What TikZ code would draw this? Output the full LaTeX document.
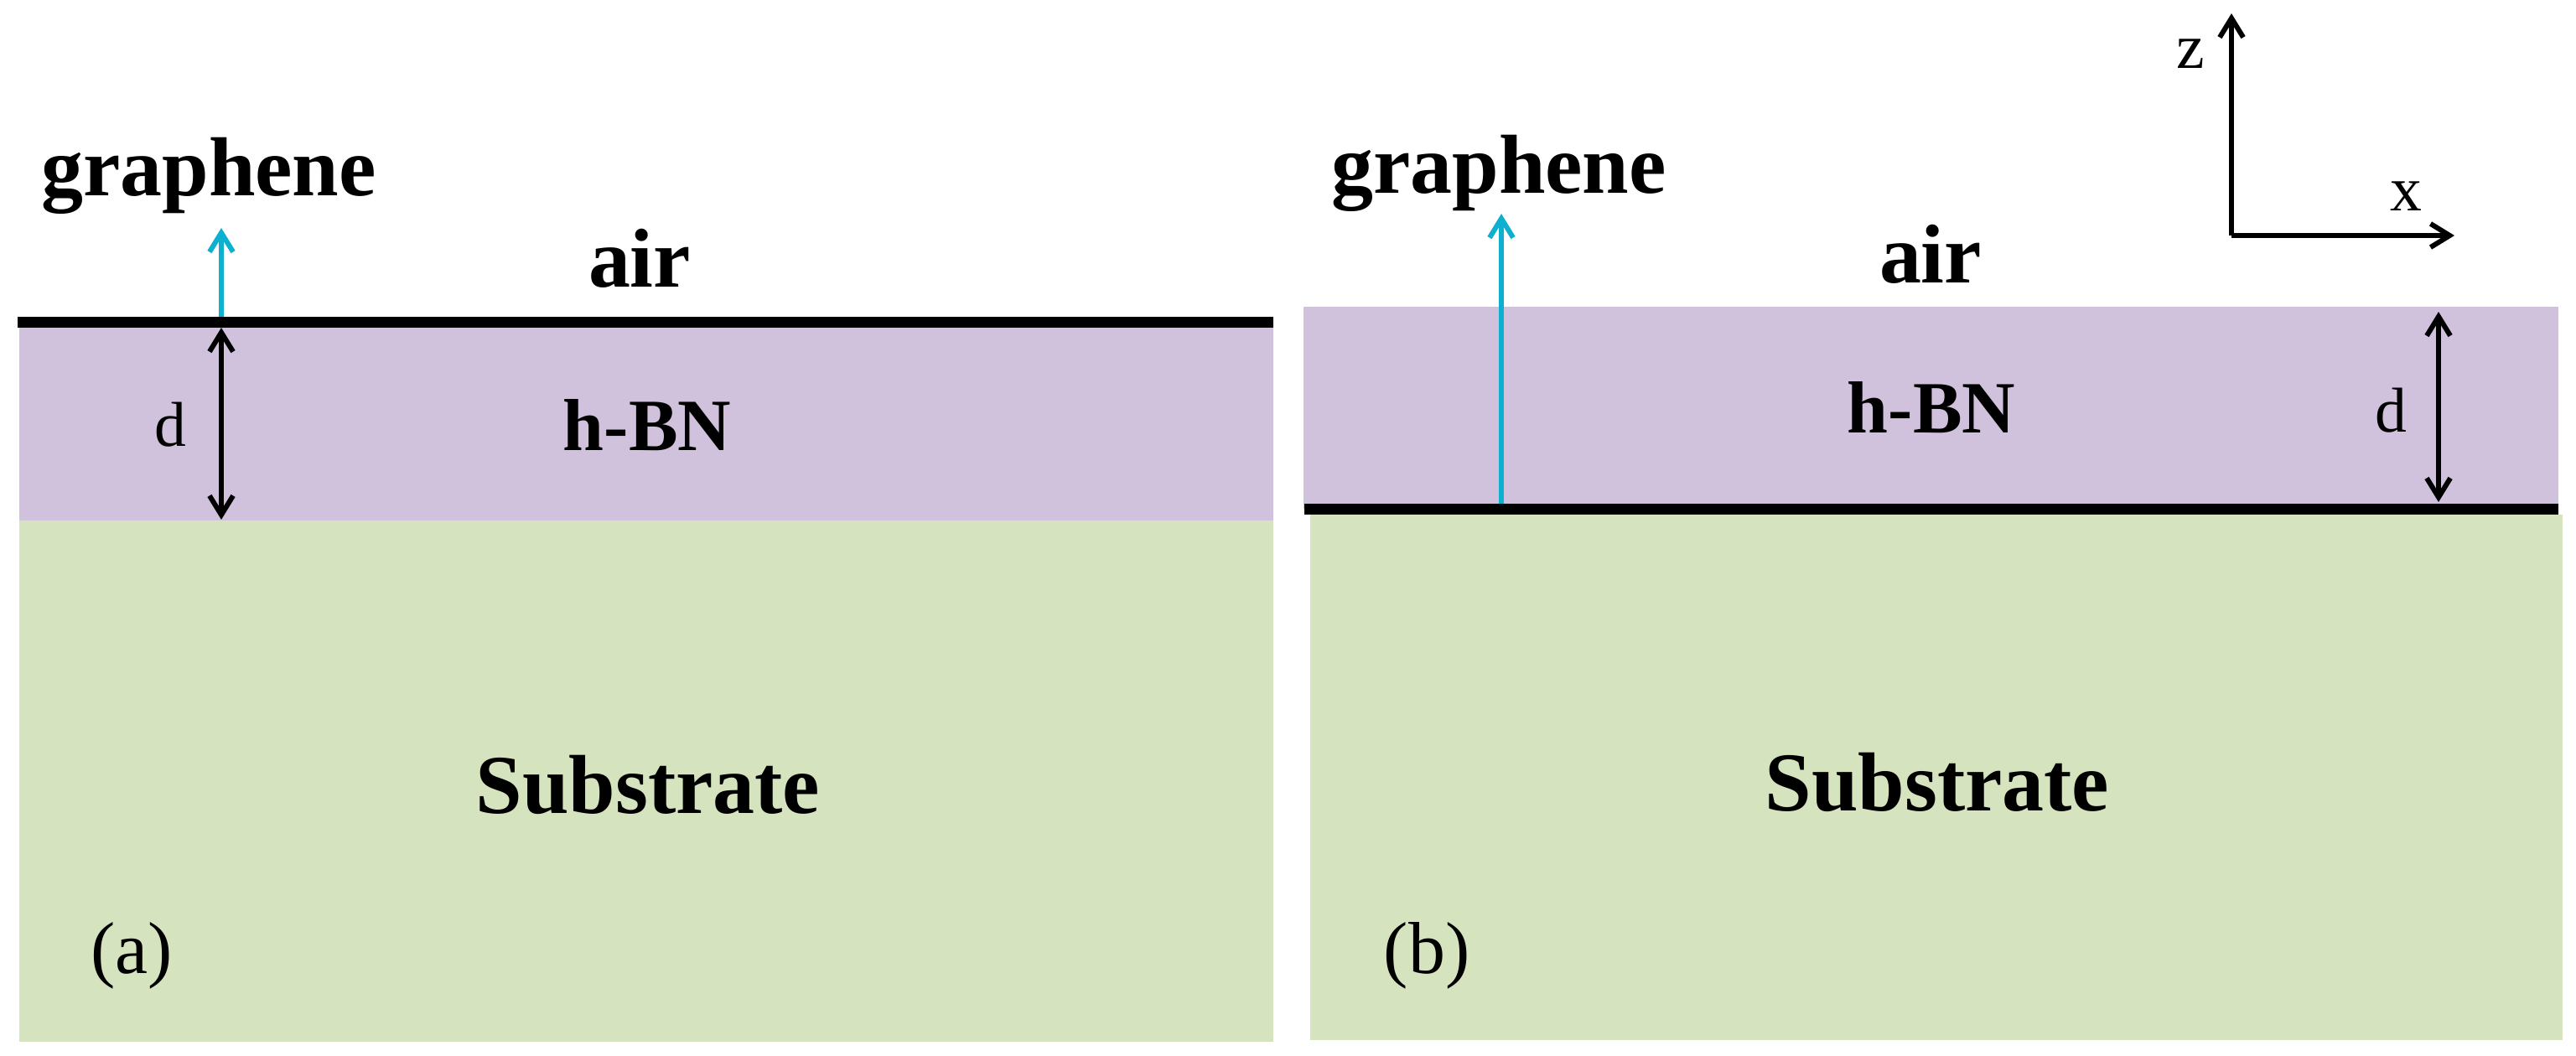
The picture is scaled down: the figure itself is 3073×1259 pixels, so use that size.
\documentclass[tikz,border=0pt]{standalone}
\usepackage{fontspec}
\setmainfont{Liberation Serif}
\usetikzlibrary{arrows.meta}
\definecolor{hbn}{RGB}{208,193,220}
\definecolor{subs}{RGB}{213,228,190}
\definecolor{cyanarr}{RGB}{14,176,208}
\tikzset{
  px/.style={x=0.01cm,y=-0.01cm},
  boldlbl/.style={inner sep=0pt,anchor=base,font=\fontsize{28.4pt}{34pt}\selectfont\bfseries},
  hbnlbl/.style={inner sep=0pt,anchor=base,font=\fontsize{25pt}{30pt}\selectfont\bfseries},
  reglbl/.style={inner sep=0pt,font=\fontsize{21.5pt}{26pt}\selectfont},
  panlbl/.style={inner sep=0pt,font=\fontsize{25pt}{30pt}\selectfont},
  sheet/.style={line width=3.7pt,draw=black},
  barb/.tip={Straight Barb[length=6.5pt,width=8pt,line width=1.7pt]},
  dimarrow/.style={line width=1.7pt,{barb}-{barb}},
  upcyan/.style={line width=1.7pt,draw=cyanarr,-{barb}},
  axis/.style={line width=1.7pt,-{barb}}
}
\begin{document}
\begin{tikzpicture}[px]
\useasboundingbox (0,0) rectangle (3073,1259);
% ---------- panel (a) ----------
\fill[subs] (23,621) rectangle (1519,1243);
\fill[hbn] (23,384) rectangle (1519,621);
\draw[sheet] (21,384.5) -- (1519,384.5);
\coordinate (a-top) at (264,391);
\coordinate (a-bot) at (264,620);
\coordinate (a-gs) at (264,378);
\coordinate (a-gt) at (264,272);
\draw[upcyan] (a-gs) -- (a-gt);
\draw[dimarrow] (a-top) -- (a-bot);
\node[reglbl] (a-d) at (203,507) {d};
\node[boldlbl] (a-graph) at (249,233) {graphene};
\node[boldlbl] (a-air) at (763,342) {air};
\node[hbnlbl] (a-hbn) at (772,537) {h-BN};
\node[boldlbl] (a-sub) at (773,970) {Substrate};
\node[panlbl] (a-lab) at (157,1140) {(a)};
% ---------- panel (b) ----------
\fill[subs] (1563,614) rectangle (3057,1241);
\fill[hbn] (1555,366) rectangle (3052,607);
\draw[sheet] (1556,607.5) -- (3052,607.5);
\coordinate (b-gs) at (1791,601);
\coordinate (b-gt) at (1791,255);
\draw[upcyan] (b-gs) -- (b-gt);
\coordinate (b-top) at (2909,372);
\coordinate (b-bot) at (2909,599);
\draw[dimarrow] (b-top) -- (b-bot);
\node[reglbl] (b-d) at (2852,490) {d};
\node[boldlbl] (b-graph) at (1788,230) {graphene};
\node[boldlbl] (b-air) at (2303,337) {air};
\node[hbnlbl] (b-hbn) at (2304,516) {h-BN};
\node[boldlbl] (b-sub) at (2311,967) {Substrate};
\node[panlbl] (b-lab) at (1702,1140) {(b)};
% ---------- axes ----------
\coordinate (origin) at (2662,281);
\coordinate (ztip) at (2662,16);
\coordinate (xtip) at (2928,281);
\draw[axis] (origin) -- (ztip);
\draw[axis] (origin) -- (xtip);
\node[reglbl] (zlab) at (2613,64) {z};
\node[reglbl] (xlab) at (2870,234) {x};
\end{tikzpicture}
\end{document}
